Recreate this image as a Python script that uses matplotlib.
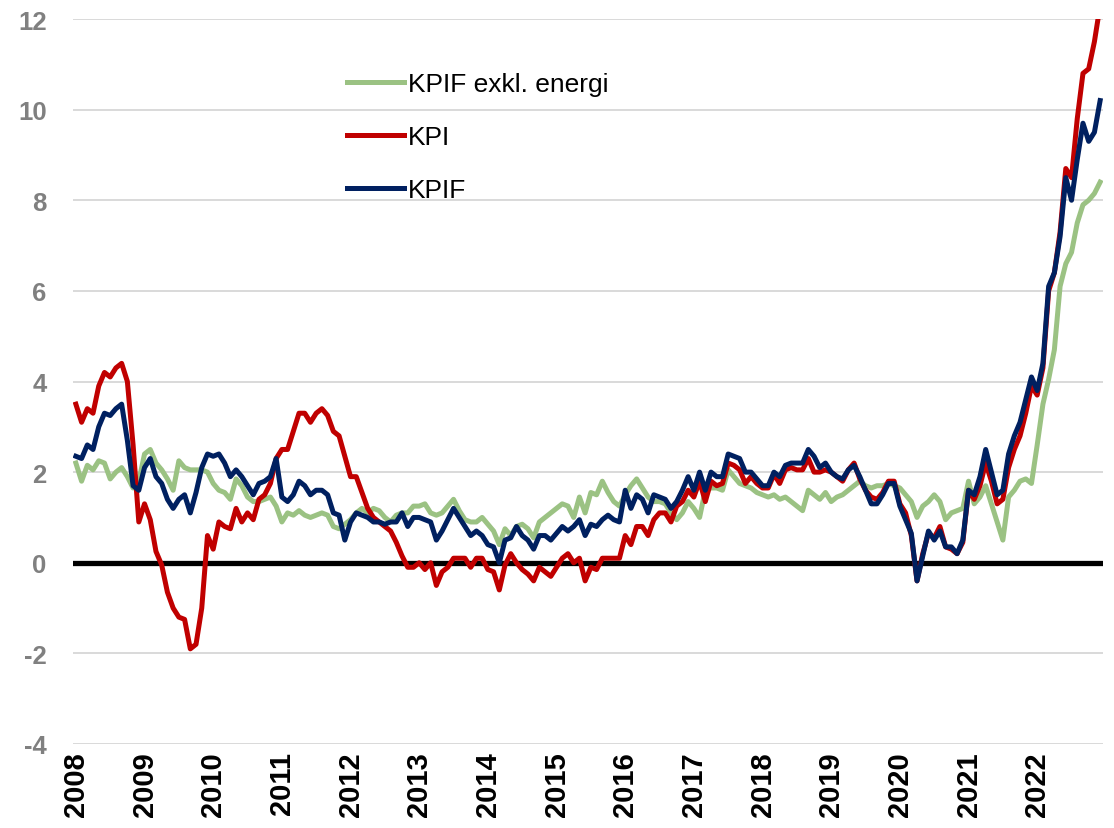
import numpy as np
import matplotlib
matplotlib.use('Agg')
import matplotlib.pyplot as plt

plt.rcParams['font.family'] = ['Liberation Sans', 'DejaVu Sans']
plt.rcParams['axes.unicode_minus'] = False

years = [str(y) for y in range(2008, 2023)]

# KPI, annual change in percent, monthly Jan 2008 - Dec 2022
kpi = [
    3.5, 3.1, 3.4, 3.3, 3.9, 4.2, 4.1, 4.3, 4.4, 4.0, 2.6, 0.9,
    1.3, 0.95, 0.25, -0.05, -0.65, -1.0, -1.2, -1.25, -1.9, -1.8, -1.0, 0.6,
    0.3, 0.9, 0.8, 0.75, 1.2, 0.9, 1.1, 0.95, 1.4, 1.5, 1.75, 2.3,
    2.5, 2.5, 2.9, 3.3, 3.3, 3.1, 3.3, 3.4, 3.25, 2.9, 2.8, 2.35,
    1.9, 1.9, 1.55, 1.2, 1.0, 0.9, 0.8, 0.7, 0.45, 0.15, -0.1, -0.1,
    0.0, -0.15, 0.0, -0.5, -0.2, -0.1, 0.1, 0.1, 0.1, -0.1, 0.1, 0.1,
    -0.15, -0.2, -0.6, -0.05, 0.2, 0.0, -0.15, -0.25, -0.4, -0.1, -0.2, -0.3,
    -0.1, 0.1, 0.2, 0.0, 0.1, -0.4, -0.1, -0.15, 0.1, 0.1, 0.1, 0.1,
    0.6, 0.4, 0.8, 0.8, 0.6, 0.95, 1.1, 1.1, 0.9, 1.25, 1.35, 1.6,
    1.45, 1.8, 1.35, 1.8, 1.7, 1.75, 2.2, 2.15, 2.05, 1.75, 1.9, 1.75,
    1.65, 1.65, 1.95, 1.75, 2.05, 2.1, 2.05, 2.05, 2.3, 2.0, 2.0, 2.05,
    2.0, 1.9, 1.8, 2.05, 2.2, 1.85, 1.6, 1.45, 1.4, 1.55, 1.8, 1.8,
    1.3, 1.1, 0.6, -0.4, 0.2, 0.65, 0.55, 0.8, 0.35, 0.3, 0.2, 0.45,
    1.6, 1.4, 1.7, 2.2, 1.8, 1.3, 1.4, 2.1, 2.5, 2.8, 3.3, 3.9,
    3.7, 4.3, 6.0, 6.4, 7.3, 8.7, 8.5, 9.8, 10.8, 10.9, 11.5, 12.3,
]

kpif = [
    2.35, 2.3, 2.6, 2.5, 3.0, 3.3, 3.25, 3.4, 3.5, 2.7, 1.7, 1.6,
    2.1, 2.3, 1.9, 1.75, 1.4, 1.2, 1.4, 1.5, 1.1, 1.55, 2.1, 2.4,
    2.35, 2.4, 2.2, 1.9, 2.05, 1.9, 1.7, 1.5, 1.75, 1.8, 1.9, 2.3,
    1.45, 1.35, 1.5, 1.8, 1.7, 1.5, 1.6, 1.6, 1.5, 1.1, 1.05, 0.5,
    0.9, 1.1, 1.05, 1.0, 0.9, 0.9, 0.85, 0.9, 0.9, 1.1, 0.8, 1.0,
    1.0, 0.95, 0.9, 0.5, 0.7, 0.95, 1.2, 1.0, 0.8, 0.6, 0.7, 0.6,
    0.4, 0.35, 0.0, 0.5, 0.55, 0.8, 0.6, 0.5, 0.3, 0.6, 0.6, 0.5,
    0.65, 0.8, 0.7, 0.8, 0.95, 0.6, 0.85, 0.8, 0.95, 1.05, 0.95, 0.9,
    1.6, 1.2, 1.5, 1.4, 1.1, 1.5, 1.45, 1.4, 1.2, 1.35, 1.6, 1.9,
    1.6, 2.0, 1.6, 2.0, 1.9, 1.9, 2.4, 2.35, 2.3, 2.0, 2.0, 1.85,
    1.7, 1.7, 2.0, 1.9, 2.15, 2.2, 2.2, 2.2, 2.5, 2.35, 2.1, 2.2,
    2.0, 1.9, 1.85, 2.05, 2.15, 1.9, 1.6, 1.3, 1.3, 1.5, 1.75, 1.75,
    1.25, 0.95, 0.65, -0.4, 0.15, 0.7, 0.5, 0.7, 0.35, 0.35, 0.2, 0.5,
    1.6, 1.5, 1.9, 2.5, 2.0, 1.5, 1.6, 2.4, 2.8, 3.1, 3.6, 4.1,
    3.8, 4.4, 6.1, 6.4, 7.2, 8.5, 8.0, 8.9, 9.7, 9.3, 9.5, 10.2,
]

kpif_xe = [
    2.2, 1.8, 2.15, 2.05, 2.25, 2.2, 1.85, 2.0, 2.1, 1.9, 1.65, 1.8,
    2.4, 2.5, 2.2, 2.05, 1.85, 1.6, 2.25, 2.1, 2.05, 2.05, 2.05, 2.0,
    1.75, 1.6, 1.55, 1.4, 1.85, 1.7, 1.45, 1.35, 1.35, 1.4, 1.45, 1.25,
    0.9, 1.1, 1.05, 1.15, 1.05, 1.0, 1.05, 1.1, 1.05, 0.8, 0.75, 0.85,
    0.95, 1.1, 1.2, 1.1, 1.2, 1.15, 1.0, 0.9, 1.05, 1.1, 1.1, 1.25,
    1.25, 1.3, 1.1, 1.05, 1.1, 1.25, 1.4, 1.15, 0.95, 0.9, 0.9, 1.0,
    0.85, 0.7, 0.4, 0.75, 0.6, 0.8, 0.85, 0.75, 0.55, 0.9, 1.0, 1.1,
    1.2, 1.3, 1.25, 1.0, 1.45, 1.1, 1.55, 1.5, 1.8, 1.55, 1.35, 1.25,
    1.5, 1.7, 1.85, 1.65, 1.45, 1.35, 1.35, 1.3, 1.1, 0.95, 1.1, 1.35,
    1.2, 1.0, 1.6, 1.65, 1.65, 1.6, 2.05, 1.9, 1.75, 1.7, 1.65, 1.55,
    1.5, 1.45, 1.5, 1.4, 1.45, 1.35, 1.25, 1.15, 1.6, 1.5, 1.4, 1.55,
    1.35, 1.45, 1.5, 1.6, 1.7, 1.8, 1.7, 1.65, 1.7, 1.7, 1.75, 1.7,
    1.65, 1.5, 1.35, 1.0, 1.25, 1.35, 1.5, 1.35, 0.95, 1.1, 1.15, 1.2,
    1.8, 1.3, 1.45, 1.7, 1.3, 0.9, 0.5, 1.45, 1.6, 1.8, 1.85, 1.75,
    2.6, 3.5, 4.05, 4.7, 6.1, 6.6, 6.85, 7.5, 7.9, 8.0, 8.15, 8.4,
]


def main():
    x = np.arange(len(kpi))

    fig = plt.figure(figsize=(11.14, 8.29), dpi=100)
    ax = fig.add_axes([73 / 1114, 1 - 745 / 829, 1030 / 1114, 725 / 829])

    ax.plot(x, kpif_xe, color='#9bc283', lw=3.6, label='KPIF exkl. energi', zorder=3)
    ax.plot(x, kpi, color='#c00000', lw=3.6, label='KPI', zorder=4)
    ax.plot(x, kpif, color='#002060', lw=3.6, label='KPIF', zorder=5)
    ax.axhline(0, color='black', lw=3.8, zorder=2)

    ax.set_xlim(-0.5, len(kpi) - 0.5)
    ax.set_ylim(-4, 12)
    ax.set_yticks(range(-4, 13, 2))
    ax.set_xticks(np.arange(0, len(kpi), 12))
    ax.set_xticklabels(years, rotation=90, fontsize=21, fontweight='bold')
    ax.tick_params(axis='x', length=0, pad=5, colors='black')
    ax.tick_params(axis='y', length=0, pad=19, labelsize=18.5, labelcolor='#808080')
    for lbl in ax.get_yticklabels():
        lbl.set_fontweight('bold')

    ax.grid(axis='y', color='#d9d9d9', lw=1.4, zorder=1)
    ax.set_axisbelow(True)
    for s in ax.spines.values():
        s.set_visible(False)

    fig.legend(loc='upper left', bbox_to_anchor=(347 / 1114, 1 - 73 / 829),
               frameon=False, fontsize=19, handlelength=2.15, handletextpad=0.15,
               labelspacing=1.1, borderpad=0, borderaxespad=0)

    fig.savefig('out.png', dpi=100)


if __name__ == "__main__":
    main()
